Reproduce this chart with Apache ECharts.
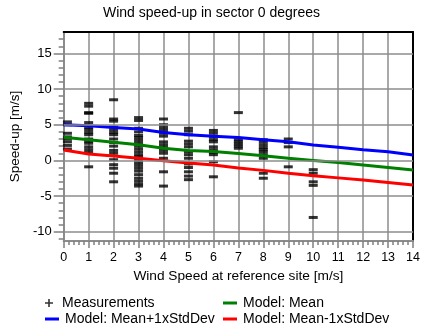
<!DOCTYPE html>
<html><head><meta charset="utf-8">
<script src="https://cdn.jsdelivr.net/npm/echarts@6/dist/echarts.min.js"></script>
<style>html,body{margin:0;padding:0;background:#fff}#c{width:423px;height:331px}</style>
</head><body><div id="c"></div>
<script>
const titleText = 'Wind speed-up in sector 0 degrees';
const xAxisName = 'Wind Speed at reference site [m/s]';
const yAxisName = 'Speed-up [m/s]';
const yMajorTicks = [-10, -5, 0, 5, 10, 15];
const yMinorTicks = [-11, -9, -8, -7, -6, -4, -3, -2, -1, 1, 2, 3, 4, 6, 7, 8, 9, 11, 12, 13, 14, 16, 17];
const measWind = [0.15, 1, 2, 3, 4, 5, 6, 7, 8, 9, 10];
const measSpeedUp = [
  [5.4, 5.0, 3.8, 3.3, 3.0, 2.6, 2.1, 1.6],
  [8.0, 7.6, 6.7, 6.6, 5.3, 4.6, 4.3, 3.9, 3.6, 3.0, 2.7, 2.4, 1.9, 1.5, 1.1, -0.9],
  [8.5, 5.8, 5.5, 4.7, 4.3, 3.9, 3.6, 3.0, 2.5, 2.0, 1.4, 1.0, 0.1, -0.6, -1.1, -1.8, -3.0],
  [6.0, 5.6, 4.5, 4.0, 3.5, 3.2, 2.8, 2.4, 2.0, 1.6, 1.2, 0.8, 0.5, 0.1, -0.3, -0.7, -1.1, -1.5, -2.0, -2.5, -2.9, -3.3, -3.6],
  [5.8, 5.0, 4.6, 4.2, 3.8, 3.4, 2.6, 2.2, 1.8, 1.4, 1.0, 0.3, -1.6, -3.6],
  [4.5, 4.1, 3.6, 2.7, 2.3, 1.9, 1.2, 0.8, 0.3, -0.5, -1.0, -1.6, -2.2, -2.7],
  [4.2, 3.8, 3.3, 2.9, 2.6, 1.9, 1.5, 1.1, 0.8, -0.2, -2.3],
  [6.7, 2.9, 2.6, 2.3, 2.0, 1.7],
  [2.9, 2.6, 2.2, 1.8, 1.5, 1.2, 0.8, 0.3, -1.8, -2.5],
  [3.0, 2.5, 1.9, -0.9],
  [-1.3, -1.8, -3.0, -3.5, -8.0]
];
const modelWind = [0, 1, 2, 3, 4, 5, 6, 7, 8, 9, 10, 11, 12, 13, 14];
const modelPlus = [5.0, 4.85, 4.6, 4.4, 3.9, 3.6, 3.4, 3.2, 2.9, 2.6, 2.15, 1.85, 1.5, 1.2, 0.75];
const modelMean = [3.25, 2.9, 2.55, 2.2, 1.7, 1.4, 1.25, 0.95, 0.65, 0.3, 0.0, -0.3, -0.65, -1.0, -1.35];
const modelMinus = [1.45, 0.9, 0.6, 0.3, -0.05, -0.35, -0.65, -1.05, -1.4, -1.8, -2.15, -2.45, -2.75, -3.1, -3.45];

const FONT = 'Liberation Sans, Arial, sans-serif';
const GRAY = '#8c8c8c';
const measData = [];
measWind.forEach((w, i) => measSpeedUp[i].forEach(v => measData.push([w, v])));
const zip = (xs, ys) => xs.map((x, i) => [x, ys[i]]);
const PLUS_ICON = 'path://M4,0h2v4h4v2H6v4H4V6H0V4h4z';
const LINE_ICON = 'path://M0,0h14v3H0z';
const legendItem = (name, icon, left, top) => ({
  orient: 'horizontal', left: left, top: top, itemWidth: 14, itemHeight: 8, itemGap: 0,
  selectedMode: false, padding: 0,
  textStyle: {fontFamily: FONT, fontSize: 14, color: '#000', padding: [0, 0, 0, 1]},
  data: [{name: name, icon: icon}]
});

const chart = echarts.init(document.getElementById('c'), null, {renderer: 'canvas'});
chart.setOption({
  animation: false,
  backgroundColor: '#fff',
  textStyle: {fontFamily: FONT},
  title: {text: titleText, left: 'center', top: 1,
    textStyle: {fontFamily: FONT, fontSize: 14, fontWeight: 'normal', color: '#000'}},
  grid: {left: 61, right: 7, top: 32, bottom: 90},
  legend: [
    legendItem('Measurements', PLUS_ICON, 45, 296),
    legendItem('Model: Mean+1xStdDev', LINE_ICON, 45, 312),
    legendItem('Model: Mean', LINE_ICON, 223, 296),
    legendItem('Model: Mean-1xStdDev', LINE_ICON, 223, 312)
  ],
  xAxis: [
    {type: 'value', min: 0, max: 14, interval: 1, position: 'bottom',
     name: xAxisName, nameLocation: 'middle', nameGap: 26,
     nameTextStyle: {fontFamily: FONT, fontSize: 13.7, color: '#000'},
     axisLine: {show: true, onZero: false, lineStyle: {color: GRAY, width: 2}},
     axisTick: {show: true, length: 7, lineStyle: {color: '#808080', width: 1.5}},
     minorTick: {show: true, splitNumber: 5, length: 4, lineStyle: {color: '#808080', width: 1.5}},
     axisLabel: {margin: 10, fontFamily: FONT, fontSize: 12.5, color: '#000'},
     splitLine: {show: true, lineStyle: {color: GRAY, width: 1.5}}},
    {type: 'value', min: 0, max: 14, position: 'top',
     axisLine: {show: true, onZero: false, lineStyle: {color: '#000', width: 2}},
     axisTick: {show: false}, axisLabel: {show: false}, splitLine: {show: false}}
  ],
  yAxis: [
    {type: 'value', min: -11.3, max: 18, position: 'left',
     name: yAxisName, nameLocation: 'middle', nameGap: 35,
     nameTextStyle: {fontFamily: FONT, fontSize: 13.5, color: '#000'},
     axisLine: {show: true, onZero: false, lineStyle: {color: GRAY, width: 2}},
     axisTick: {show: true, length: 10, customValues: yMajorTicks, lineStyle: {color: '#808080', width: 1.5}},
     axisLabel: {customValues: yMajorTicks, margin: 12, fontFamily: FONT, fontSize: 13, color: '#000'},
     splitLine: {show: false}},
    {type: 'value', min: -11.3, max: 18, position: 'left',
     axisLine: {show: false},
     axisTick: {show: true, length: 5, customValues: yMinorTicks, lineStyle: {color: '#808080', width: 1.5}},
     axisLabel: {show: false}, splitLine: {show: false}},
    {type: 'value', min: -11.3, max: 18, position: 'right',
     axisLine: {show: true, onZero: false, lineStyle: {color: '#000', width: 2}},
     axisTick: {show: false}, axisLabel: {show: false}, splitLine: {show: false}}
  ],
  series: [
    {type: 'line', name: 'gridlines', data: [], z: 0, silent: true,
     markLine: {silent: true, symbol: ['none', 'none'], label: {show: false},
       lineStyle: {color: GRAY, width: 1.5, type: 'solid'},
       emphasis: {disabled: true},
       data: yMajorTicks.map(v => ({yAxis: v}))}},
    {type: 'scatter', name: 'Measurements', data: measData, symbol: 'rect', symbolSize: [9, 3],
     itemStyle: {color: '#000'}, z: 2},
    {type: 'line', name: 'Model: Mean+1xStdDev', data: zip(modelWind, modelPlus), symbol: 'none',
     lineStyle: {color: '#0000ff', width: 3}, itemStyle: {color: '#0000ff'}, z: 3},
    {type: 'line', name: 'Model: Mean', data: zip(modelWind, modelMean), symbol: 'none',
     lineStyle: {color: '#008000', width: 3}, itemStyle: {color: '#008000'}, z: 3},
    {type: 'line', name: 'Model: Mean-1xStdDev', data: zip(modelWind, modelMinus), symbol: 'none',
     lineStyle: {color: '#ff0000', width: 3}, itemStyle: {color: '#ff0000'}, z: 3}
  ]
});
</script></body></html>
